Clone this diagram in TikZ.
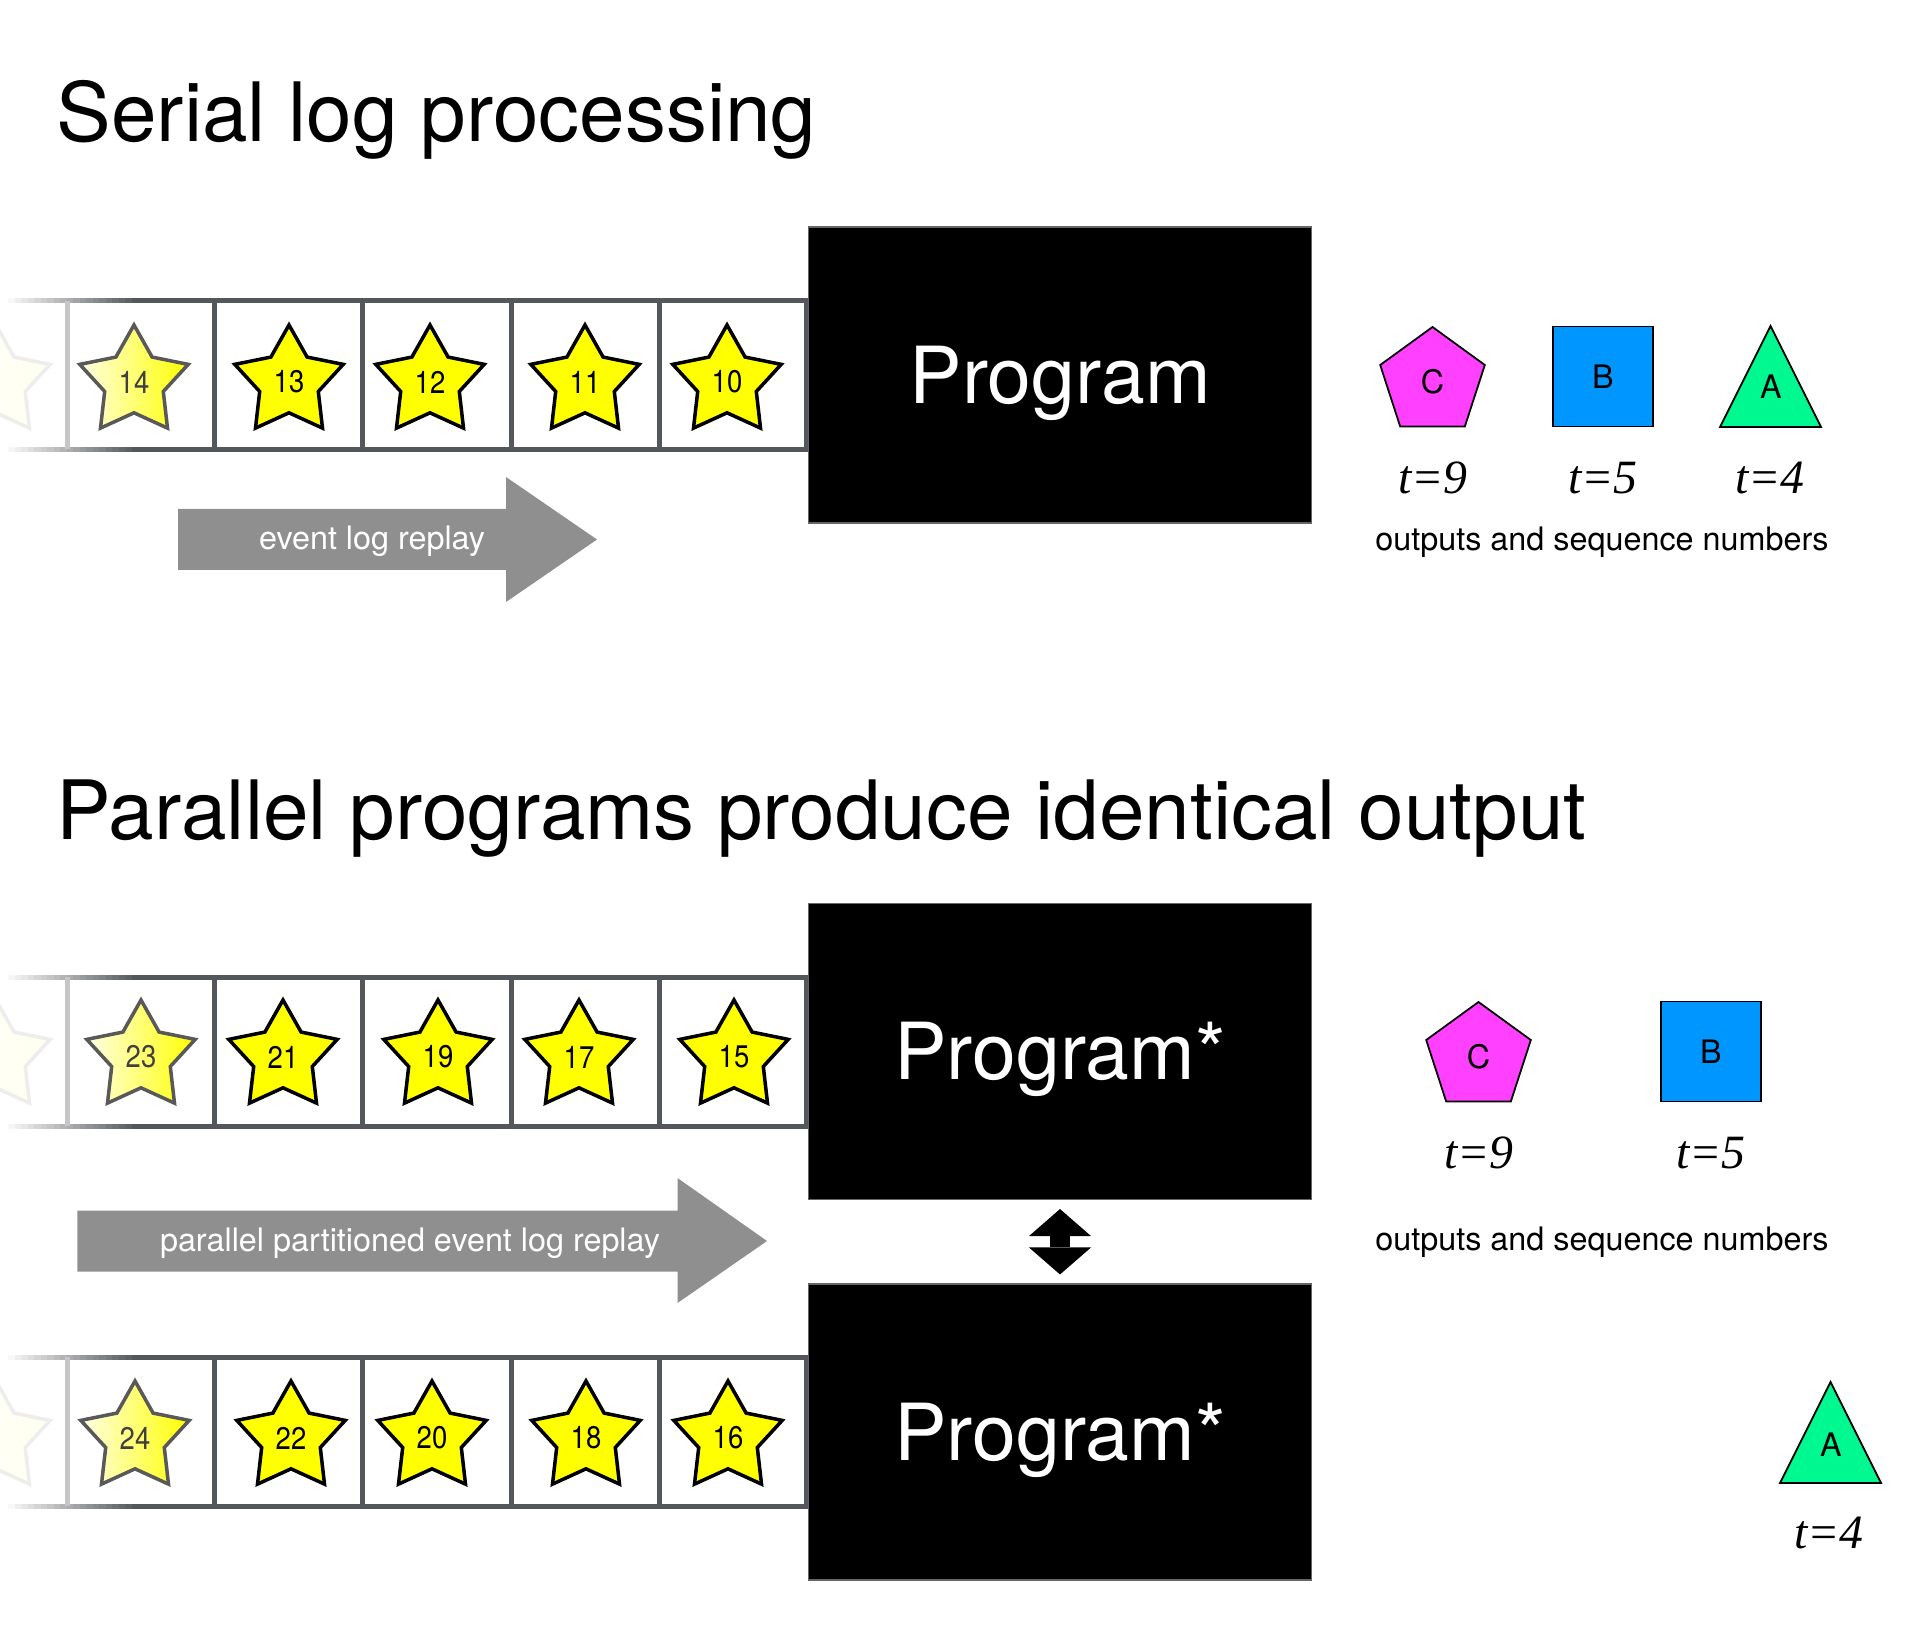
\documentclass[tikz,border=0pt]{standalone}
\usepackage{fontspec}
\setmainfont{TeX Gyre Heros}
\newfontfamily\starfont[FakeStretch=0.88]{TeX Gyre Heros}
\newfontfamily\seqfont{Liberation Serif}
\usetikzlibrary{arrows.meta, shapes.geometric}
\definecolor{tapegray}{HTML}{54585D}
\definecolor{lightdiv}{HTML}{C6C6C6}
\definecolor{replaygray}{HTML}{8F8F8F}
\definecolor{starfill}{HTML}{FFFF00}
\definecolor{outmagenta}{HTML}{FF40FF}
\definecolor{outblue}{HTML}{0096FF}
\definecolor{outgreen}{HTML}{00F890}

\begin{document}
\begin{tikzpicture}[
  eventstar/.style={star, star points=5, star point ratio=1.85, minimum size=1.14cm,
    inner sep=0pt, fill=starfill, draw=black, line width=1pt,
    font=\starfont\fontsize{8.9}{10}\selectfont},
  fadedstar/.style={eventstar, left color=starfill!10, right color=starfill,
    draw=black!65, text=black!75},
  ghoststar/.style={eventstar, left color=white, right color=starfill!7, draw=black!7},
  divider/.style={draw=tapegray, line width=0.05cm},
  progbox/.style={fill=black, draw=black!60, line width=0.3pt, minimum width=5.03cm,
    minimum height=2.96cm, text=white, font=\fontsize{22.4}{26}\selectfont,
    text height=0.566cm, text depth=0pt},
  titlelbl/.style={font=\fontsize{23.3}{28}\selectfont, anchor=base west, inner sep=0pt},
  outshape/.style={draw=black, line width=0.5pt, inner sep=0pt,
    font=\fontsize{9.2}{11}\selectfont},
  seqlbl/.style={font=\seqfont\itshape\fontsize{13.6}{15}\selectfont, inner sep=0pt},
  outcaption/.style={font=\fontsize{9.2}{11}\selectfont, inner sep=0pt},
  replaylbl/.style={font=\fontsize{9.2}{11}\selectfont, text=white, inner sep=0pt},
  syncarrow/.style={line width=0.2cm,
    arrows={Triangle[width=0.62cm,length=0.27cm,line width=0pt]-Triangle[width=0.62cm,length=0.27cm,line width=0pt]},
    shorten <=0.09cm, shorten >=0.09cm},
]

\useasboundingbox (0,0) rectangle (19.2,-16.29);

% === Titles ===
\node[titlelbl] (serialtitle) at (0.56,-1.42) {Serial log processing};
\node[titlelbl] (paralleltitle) at (0.56,-8.39) {Parallel programs produce identical output};

% === Serial log tape ===
\foreach \y in {-3.01,-4.495} {
  \fill[tapegray] (1.38,\y+0.025) rectangle (8.09,\y-0.025);
  \foreach \i [evaluate=\i as \pct using int(5*\i)] in {1,...,20}
    \fill[tapegray!\pct] ({0.08+0.065*(\i-1)},\y+0.025) rectangle ({0.09+0.065*\i},\y-0.025);
}
\draw[divider, draw=lightdiv] (0.67,-3.01) -- (0.67,-4.495);
\foreach \x in {2.14,3.62,5.11,6.59,8.06}
  \draw[divider] (\x,-3.01) -- (\x,-4.495);

\node[ghoststar] (ghost1) at (-0.04,-3.82) {};
\node[fadedstar] (ev14) at (1.34,-3.82) {14};
\node[eventstar] (ev13) at (2.89,-3.82) {13};
\node[eventstar] (ev12) at (4.30,-3.82) {12};
\node[eventstar] (ev11) at (5.85,-3.82) {11};
\node[eventstar] (ev10) at (7.27,-3.82) {10};

% === Serial program ===
\node[progbox] (serialprog) at (10.60,-3.75) {Program};

% replay arrow
\fill[replaygray] (1.78,-5.09) -- (5.06,-5.09) -- (5.06,-4.77) -- (5.97,-5.395)
  -- (5.06,-6.02) -- (5.06,-5.70) -- (1.78,-5.70) -- cycle;
\node[replaylbl] (serialreplay) at (3.72,-5.415) {event log replay};

% === Serial outputs ===
\node[outshape, regular polygon, regular polygon sides=5, minimum size=1.10cm,
  fill=outmagenta] (outC1) at (14.325,-3.82) {C};
\node[outshape, rectangle, minimum size=1.0cm, fill=outblue] (outB1) at (16.03,-3.765) {B};
\filldraw[draw=black, line width=0.5pt, fill=outgreen]
  (17.20,-4.27) -- (18.21,-4.27) -- (17.705,-3.26) -- cycle;
\node[outcaption] (outA1) at (17.71,-3.87) {A};

\node[seqlbl] (seqC1) at (14.33,-4.78) {t=9};
\node[seqlbl] (seqB1) at (16.03,-4.78) {t=5};
\node[seqlbl] (seqA1) at (17.70,-4.78) {t=4};
\node[outcaption] (serialout) at (16.02,-5.42) {outputs and sequence numbers};

% === Parallel tape (odd) ===
\foreach \y in {-9.77,-11.26} {
  \fill[tapegray] (1.38,\y+0.025) rectangle (8.09,\y-0.025);
  \foreach \i [evaluate=\i as \pct using int(5*\i)] in {1,...,20}
    \fill[tapegray!\pct] ({0.08+0.065*(\i-1)},\y+0.025) rectangle ({0.09+0.065*\i},\y-0.025);
}
\draw[divider, draw=lightdiv] (0.67,-9.77) -- (0.67,-11.26);
\foreach \x in {2.14,3.62,5.11,6.59,8.06}
  \draw[divider] (\x,-9.77) -- (\x,-11.26);

\node[ghoststar] (ghost2) at (-0.04,-10.57) {};
\node[fadedstar] (ev23) at (1.41,-10.57) {23};
\node[eventstar] (ev21) at (2.83,-10.57) {21};
\node[eventstar] (ev19) at (4.38,-10.57) {19};
\node[eventstar] (ev17) at (5.79,-10.57) {17};
\node[eventstar] (ev15) at (7.34,-10.57) {15};

% === Parallel tape (even) ===
\foreach \y in {-13.57,-15.06} {
  \fill[tapegray] (1.38,\y+0.025) rectangle (8.09,\y-0.025);
  \foreach \i [evaluate=\i as \pct using int(5*\i)] in {1,...,20}
    \fill[tapegray!\pct] ({0.08+0.065*(\i-1)},\y+0.025) rectangle ({0.09+0.065*\i},\y-0.025);
}
\draw[divider, draw=lightdiv] (0.67,-13.57) -- (0.67,-15.06);
\foreach \x in {2.14,3.62,5.11,6.59,8.06}
  \draw[divider] (\x,-13.57) -- (\x,-15.06);

\node[ghoststar] (ghost3) at (-0.04,-14.38) {};
\node[fadedstar] (ev24) at (1.35,-14.38) {24};
\node[eventstar] (ev22) at (2.91,-14.38) {22};
\node[eventstar] (ev20) at (4.32,-14.38) {20};
\node[eventstar] (ev18) at (5.86,-14.38) {18};
\node[eventstar] (ev16) at (7.28,-14.38) {16};

% parallel replay arrow
\fill[replaygray] (0.774,-12.107) -- (6.775,-12.107) -- (6.775,-11.78) -- (7.67,-12.41)
  -- (6.775,-13.03) -- (6.775,-12.717) -- (0.774,-12.717) -- cycle;
\node[replaylbl] (parreplay) at (4.10,-12.43) {parallel partitioned event log replay};

% === Parallel programs ===
\node[progbox] (parprogA) at (10.60,-10.515) {Program*};
\node[progbox] (parprogB) at (10.60,-14.32) {Program*};
\draw[syncarrow] (parprogA.south) -- (parprogB.north);

% === Parallel outputs ===
\node[outshape, regular polygon, regular polygon sides=5, minimum size=1.10cm,
  fill=outmagenta] (outC2) at (14.785,-10.57) {C};
\node[outshape, rectangle, minimum size=1.0cm, fill=outblue] (outB2) at (17.11,-10.515) {B};
\node[seqlbl] (seqC2) at (14.79,-11.53) {t=9};
\node[seqlbl] (seqB2) at (17.11,-11.53) {t=5};
\node[outcaption] (parout) at (16.02,-12.42) {outputs and sequence numbers};

\filldraw[draw=black, line width=0.5pt, fill=outgreen]
  (17.80,-14.83) -- (18.81,-14.83) -- (18.305,-13.82) -- cycle;
\node[outcaption] (outA2) at (18.31,-14.45) {A};
\node[seqlbl] (seqA2) at (18.29,-15.33) {t=4};

\end{tikzpicture}
\end{document}
